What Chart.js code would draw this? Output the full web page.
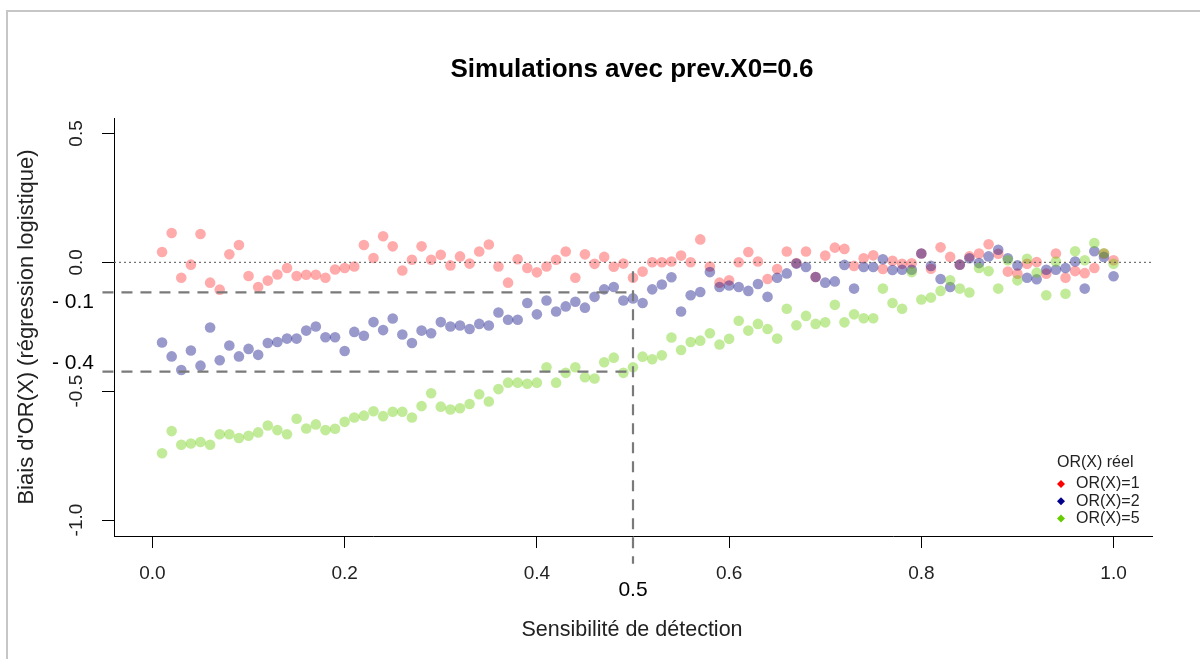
<!DOCTYPE html>
<html><head><meta charset="utf-8">
<script src="https://cdn.jsdelivr.net/npm/chart.js@4/dist/chart.umd.min.js"></script>
<style>html,body{margin:0;padding:0;background:#fff;}#wrap{position:relative;width:1200px;height:659px;}</style>
</head><body><div id="wrap"><canvas id="c" width="1200" height="659"></canvas></div>
<script>
const sensitivity = [0.01,0.02,0.03,0.04,0.05,0.06,0.07,0.08,0.09,0.10,
0.11,0.12,0.13,0.14,0.15,0.16,0.17,0.18,0.19,0.20,
0.21,0.22,0.23,0.24,0.25,0.26,0.27,0.28,0.29,0.30,
0.31,0.32,0.33,0.34,0.35,0.36,0.37,0.38,0.39,0.40,
0.41,0.42,0.43,0.44,0.45,0.46,0.47,0.48,0.49,0.50,
0.51,0.52,0.53,0.54,0.55,0.56,0.57,0.58,0.59,0.60,
0.61,0.62,0.63,0.64,0.65,0.66,0.67,0.68,0.69,0.70,
0.71,0.72,0.73,0.74,0.75,0.76,0.77,0.78,0.79,0.80,
0.81,0.82,0.83,0.84,0.85,0.86,0.87,0.88,0.89,0.90,
0.91,0.92,0.93,0.94,0.95,0.96,0.97,0.98,0.99,1.00];

const biasOR1 = [0.04,0.114,-0.06,-0.009,0.11,-0.079,-0.106,0.031,0.067,-0.053,
-0.096,-0.071,-0.047,-0.022,-0.053,-0.048,-0.048,-0.06,-0.028,-0.022,
-0.016,0.067,0.017,0.101,0.062,-0.032,0.01,0.062,0.01,0.029,
-0.012,0.023,-0.005,0.042,0.069,-0.016,-0.079,0.012,-0.022,-0.039,
-0.016,0.01,0.042,-0.06,0.031,-0.006,0.021,-0.017,-0.005,-0.06,
-0.036,0.0,0.0,0.003,0.026,0.0,0.089,-0.016,-0.079,-0.07,
0.0,0.04,0.003,-0.065,-0.026,0.042,-0.003,0.042,-0.057,0.026,
0.057,0.052,-0.014,0.016,0.027,-0.026,0.006,-0.006,-0.004,0.034,
-0.025,0.058,0.021,-0.009,0.023,0.034,0.07,0.033,-0.036,-0.044,
-0.006,0.001,-0.044,0.034,-0.06,-0.034,-0.042,-0.022,0.034,0.008];

const biasOR2 = [-0.311,-0.365,-0.418,-0.342,-0.401,-0.253,-0.38,-0.323,-0.365,-0.336,
-0.359,-0.313,-0.309,-0.296,-0.296,-0.265,-0.249,-0.291,-0.291,-0.344,
-0.27,-0.285,-0.232,-0.263,-0.218,-0.28,-0.313,-0.265,-0.275,-0.232,
-0.249,-0.245,-0.259,-0.239,-0.245,-0.195,-0.223,-0.223,-0.158,-0.202,
-0.148,-0.191,-0.171,-0.153,-0.176,-0.134,-0.105,-0.096,-0.148,-0.14,
-0.158,-0.105,-0.086,-0.058,-0.191,-0.128,-0.115,-0.038,-0.096,-0.09,
-0.096,-0.111,-0.084,-0.134,-0.06,-0.043,-0.005,-0.018,-0.057,-0.079,
-0.074,-0.01,-0.102,-0.018,-0.018,0.012,-0.03,-0.029,-0.029,0.034,
-0.014,-0.065,-0.096,-0.009,0.016,-0.003,0.023,0.049,0.016,-0.012,
-0.06,-0.066,-0.029,-0.029,-0.022,0.003,-0.102,0.043,0.021,-0.054];

const biasOR5 = [-0.741,-0.655,-0.708,-0.703,-0.697,-0.708,-0.667,-0.667,-0.682,-0.673,
-0.66,-0.633,-0.651,-0.667,-0.607,-0.645,-0.629,-0.651,-0.646,-0.619,
-0.602,-0.595,-0.578,-0.597,-0.58,-0.58,-0.602,-0.558,-0.508,-0.56,
-0.571,-0.566,-0.55,-0.512,-0.54,-0.492,-0.467,-0.467,-0.471,-0.467,
-0.407,-0.467,-0.429,-0.407,-0.446,-0.451,-0.388,-0.37,-0.429,-0.407,
-0.366,-0.376,-0.361,-0.292,-0.34,-0.309,-0.304,-0.275,-0.319,-0.297,
-0.227,-0.265,-0.239,-0.259,-0.296,-0.18,-0.244,-0.208,-0.239,-0.233,
-0.165,-0.233,-0.202,-0.217,-0.217,-0.102,-0.158,-0.18,-0.038,-0.144,
-0.137,-0.111,-0.07,-0.102,-0.117,-0.022,-0.034,-0.102,0.008,-0.07,
0.014,-0.04,-0.128,0.003,-0.122,0.043,0.008,0.075,0.035,-0.006];

const xTicks = [0.0,0.2,0.4,0.6,0.8,1.0];
const yTicks = [-1.0,-0.5,0.0,0.5];
const seriesLabels = ["OR(X)=1","OR(X)=2","OR(X)=5"];
const legendTitle = "OR(X) réel";
const refSensitivity = 0.5;
const refBiasOR2 = -0.1165;
const refBiasOR5 = -0.4245;
const refLabels = ["- 0.1","- 0.4","0.5"];
const titleText = "Simulations avec prev.X0=0.6";
const xTitle = "Sensibilité de détection";
const yTitle = "Biais d'OR(X) (régression logistique)";

const FONT = '"Liberation Sans", Arial, Helvetica, sans-serif';
const solidColors = ['#ff0000','#00008b','#66cd00'];
const pointColors = ['rgba(255,0,0,0.33)','rgba(0,0,128,0.4)','rgba(102,205,0,0.4)'];

function pts(ys){ return sensitivity.map((x,i)=>({x:x,y:ys[i]})); }

const lineCommon = {showLine:true, pointRadius:0, borderColor:'#7a7a7a', borderWidth:2.2, borderDash:[11,8], clip:false, order:0, fill:false};

const decor = {
  id:'decor',
  afterDraw(chart){
    const ctx = chart.ctx, ys = chart.scales.y, xs = chart.scales.x;
    ctx.save();
    ctx.strokeStyle = '#c6c6c6'; ctx.lineWidth = 2;
    ctx.beginPath(); ctx.moveTo(7,659); ctx.lineTo(7,11); ctx.lineTo(1200,11); ctx.stroke();
    ctx.fillStyle = '#000';
    ctx.font = 'bold 26px ' + FONT; ctx.textAlign = 'center'; ctx.textBaseline = 'middle';
    ctx.fillText(titleText, 632, 70);
    ctx.font = '21.5px ' + FONT; ctx.fillStyle = '#222';
    ctx.fillText(xTitle, 632, 630);
    ctx.save(); ctx.translate(27, 327); ctx.rotate(-Math.PI/2); ctx.font = '22px ' + FONT; ctx.fillText(yTitle, 0, 0); ctx.restore();
    ctx.font = '19px ' + FONT;
    yTicks.forEach(v=>{
      const y = ys.getPixelForValue(v);
      ctx.save(); ctx.translate(77, y); ctx.rotate(-Math.PI/2); ctx.fillText(v.toFixed(1), 0, 0); ctx.restore();
    });
    ctx.fillStyle = '#000'; ctx.font = '21px ' + FONT;
    ctx.textAlign = 'left';
    ctx.fillText(refLabels[0], 52, 302);
    ctx.fillText(refLabels[1], 52, 363);
    ctx.textAlign = 'center';
    ctx.fillText(refLabels[2], xs.getPixelForValue(refSensitivity), 590);
    ctx.textAlign = 'left'; ctx.fillStyle = '#222';
    ctx.font = '16px ' + FONT;
    ctx.fillText(legendTitle, 1057, 463);
    seriesLabels.forEach((lab,i)=>{
      const cy = 484 + i*17.3, cx = 1061, r = 4;
      ctx.fillStyle = solidColors[i];
      ctx.beginPath(); ctx.moveTo(cx, cy-r); ctx.lineTo(cx+r, cy); ctx.lineTo(cx, cy+r); ctx.lineTo(cx-r, cy); ctx.closePath(); ctx.fill();
      ctx.fillStyle = '#222';
      ctx.fillText(lab, 1076, cy);
    });
    ctx.restore();
  }
};

new Chart(document.getElementById('c'), {
  type:'scatter',
  data:{ datasets:[
    Object.assign({data:[{x:-0.04,y:0},{x:1.04,y:0}]}, lineCommon, {borderColor:'#555', borderWidth:1, borderDash:[2,3]}),
    Object.assign({data:[{x:-0.052,y:refBiasOR2},{x:refSensitivity,y:refBiasOR2}]}, lineCommon),
    Object.assign({data:[{x:-0.052,y:refBiasOR5},{x:refSensitivity,y:refBiasOR5}]}, lineCommon),
    Object.assign({data:[{x:refSensitivity,y:-0.035},{x:refSensitivity,y:-1.17}]}, lineCommon),
    {label:seriesLabels[0], data:pts(biasOR1), backgroundColor:pointColors[0], borderWidth:0, pointRadius:5.3, order:3},
    {label:seriesLabels[1], data:pts(biasOR2), backgroundColor:pointColors[1], borderWidth:0, pointRadius:5.3, order:2},
    {label:seriesLabels[2], data:pts(biasOR5), backgroundColor:pointColors[2], borderWidth:0, pointRadius:5.3, order:1}
  ]},
  options:{
    responsive:false, animation:false, events:[],
    layout:{padding:{top:118,right:48,bottom:0,left:0}},
    plugins:{legend:{display:false}, tooltip:{enabled:false}, title:{display:false}},
    scales:{
      x:{type:'linear', min:-0.04, max:1.04,
        afterBuildTicks(s){ s.ticks = xTicks.map(v=>({value:v})); },
        afterFit(s){ s.height = 123; },
        border:{display:true, color:'#000', width:1},
        grid:{display:true, drawOnChartArea:false, drawTicks:true, tickLength:12, color:'#000'},
        ticks:{padding:14, color:'#222', font:{family:FONT, size:19}, maxRotation:0, minRotation:0, autoSkip:false,
          callback:(v)=>Number(v).toFixed(1)}
      },
      y:{type:'linear', min:-1.062, max:0.56,
        afterBuildTicks(s){ s.ticks = yTicks.map(v=>({value:v})); },
        afterFit(s){ s.width = 114; },
        border:{display:true, color:'#000', width:1},
        grid:{display:true, drawOnChartArea:false, drawTicks:true, tickLength:12, color:'#000'},
        ticks:{color:'rgba(0,0,0,0)', font:{family:FONT, size:19}, autoSkip:false}
      }
    }
  },
  plugins:[decor]
});
</script></body></html>
